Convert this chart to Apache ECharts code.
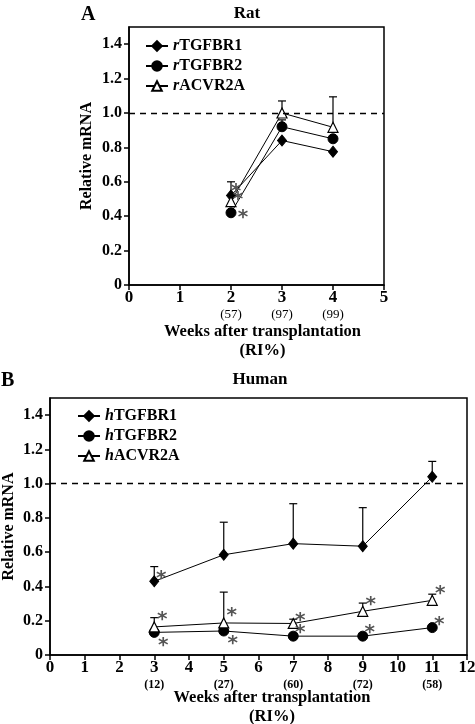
<!DOCTYPE html>
<html>
<head>
<meta charset="utf-8">
<script src="https://cdn.jsdelivr.net/npm/echarts@6/dist/echarts.min.js"></script>
<style>html,body{margin:0;padding:0;background:#fff}#c{width:475px;height:724px}</style>
</head>
<body>
<div id="c"></div>
<script>
// ---- Data: Rat (panel A)
const ratWeeks = [2, 3, 4];
const ratRI = ['57', '97', '99'];
const ratTGFBR1 = [0.52, 0.84, 0.775];
const ratTGFBR2 = [0.42, 0.92, 0.85];
const ratACVR2A = [0.485, 1.0, 0.917];
const ratTGFBR1_sd = [0.08, null, null];
const ratTGFBR2_sd = [null, 0.04, null];
const ratACVR2A_sd = [null, 0.07, 0.177];
// significance marks: [seriesKey, index, placement]
const ratSig = [['TGFBR2', 0, 'r'], ['TGFBR1', 0, 'r2'], ['ACVR2A', 0, 'ur2']];

// ---- Data: Human (panel B)
const humWeeks = [3, 5, 7, 9, 11];
const humRI = ['12', '27', '60', '72', '58'];
const humTGFBR1 = [0.43, 0.585, 0.65, 0.635, 1.04];
const humTGFBR2 = [0.132, 0.14, 0.11, 0.11, 0.16];
const humACVR2A = [0.164, 0.187, 0.184, 0.255, 0.319];
const humTGFBR1_sd = [0.086, 0.19, 0.233, 0.225, 0.09];
const humTGFBR2_sd = [null, null, null, null, null];
const humACVR2A_sd = [0.054, 0.18, 0.025, 0.048, 0.036];
const humSig = [['TGFBR1', 0, 'ur3'], ['ACVR2A', 0, 'ur'], ['TGFBR2', 0, 'lr'],
  ['ACVR2A', 1, 'ur'], ['TGFBR2', 1, 'lr'], ['ACVR2A', 2, 'ur3'], ['TGFBR2', 2, 'ur3'],
  ['ACVR2A', 3, 'ur'], ['TGFBR2', 3, 'ur3'], ['ACVR2A', 4, 'ur'], ['TGFBR2', 4, 'ur3']];

const yTicks = [0, 0.2, 0.4, 0.6, 0.8, 1.0, 1.2, 1.4];

const FONT = 'Liberation Serif';
const chart = echarts.init(document.getElementById('c'), null, {renderer: 'canvas'});

function pairs(xs, ys) { return xs.map((x, i) => [x, ys[i]]); }
function errData(xs, ys, sd) {
  const out = [];
  xs.forEach((x, i) => { if (sd[i] != null) out.push([x, ys[i], ys[i] + sd[i]]); });
  return out;
}
const GLYPH_DY = 5;
const placeOff = {ur: [8, -12], ur3: [7, -8], lr: [9, 8], r: [12, 0], r2: [7, -1], ur2: [5, -15]};

function sigData(sig, weeks, src) {
  return sig.map(s => [weeks[s[1]], src[s[0]][s[1]], s[2]]);
}

function errSeries(gi, data) {
  return {
    type: 'custom', xAxisIndex: gi, yAxisIndex: gi, z: 2, silent: true,
    data: data,
    renderItem: function (params, api) {
      const p0 = api.coord([api.value(0), api.value(1)]);
      const p1 = api.coord([api.value(0), api.value(2)]);
      const w = 4;
      return {
        type: 'group', children: [
          {type: 'line', shape: {x1: p0[0], y1: p0[1], x2: p1[0], y2: p1[1]}, style: {stroke: '#000', lineWidth: 1.2}},
          {type: 'line', shape: {x1: p1[0] - w, y1: p1[1], x2: p1[0] + w, y2: p1[1]}, style: {stroke: '#000', lineWidth: 1.2}}
        ]
      };
    }
  };
}
function sigSeries(gi, data) {
  return {
    type: 'custom', xAxisIndex: gi, yAxisIndex: gi, z: 5, silent: true,
    data: data,
    renderItem: function (params, api) {
      const p = api.coord([api.value(0), api.value(1)]);
      const off = placeOff[data[params.dataIndex][2]];
      return {
        type: 'text', x: p[0] + off[0], y: p[1] + off[1] + GLYPH_DY,
        style: {text: '*', fill: '#555', font: 'bold 20px "DejaVu Sans"', align: 'center', verticalAlign: 'middle'}
      };
    }
  };
}
function lineSeries(name, gi, data, kind) {
  const s = {
    name: name, type: 'line', xAxisIndex: gi, yAxisIndex: gi, data: data, z: 3,
    lineStyle: {color: '#000', width: 1},
    color: '#000',
    symbolSize: 9,
    itemStyle: {color: '#000', borderColor: '#000', borderWidth: 1},
    emphasis: {disabled: true},
    animation: false
  };
  if (kind === 'diamond') { s.symbol = 'diamond'; s.symbolSize = [9, 11]; }
  if (kind === 'circle') { s.symbol = 'circle'; s.symbolSize = 10; }
  if (kind === 'triangle') { s.symbol = 'triangle'; s.symbolSize = [10, 10]; s.itemStyle = {color: '#fff', borderColor: '#000', borderWidth: 1.2}; }
  return s;
}
const dash = {silent: true, symbol: 'none', label: {show: false}, animation: false,
  lineStyle: {type: [6, 5], color: '#000', width: 1.4}, data: [{yAxis: 1}]};

function xAxisCfg(gi, max, weeks, ri, gap, riStyle, namePad) {
  return {
    type: 'value', gridIndex: gi, min: 0, max: max, interval: 1,
    axisLine: {show: true, lineStyle: {color: '#000', width: 1.5}},
    axisTick: {show: true, length: 5, lineStyle: {color: '#000', width: 1.5}},
    splitLine: {show: false},
    axisLabel: {
      margin: 4, color: '#000',
      formatter: function (v) {
        const i = weeks.indexOf(v);
        return i >= 0 ? '{n|' + v + '}\n{r|(' + ri[i] + ')}' : '{n|' + v + '}';
      },
      rich: {
        n: {fontFamily: FONT, fontWeight: 'bold', fontSize: 17, color: '#000', lineHeight: 18},
        r: riStyle
      }
    },
    name: 'Weeks after transplantation\n(RI%)', nameLocation: 'middle', nameGap: gap,
    nameMoveOverlap: false,
    nameTextStyle: {fontFamily: FONT, fontWeight: 'bold', fontSize: 16.5, color: '#000', lineHeight: 19, padding: namePad}
  };
}
function yAxisCfg(gi, gap) {
  return {
    type: 'value', gridIndex: gi, min: 0, max: 1.5, interval: 0.2,
    axisLine: {show: true, lineStyle: {color: '#000', width: 1.5}},
    axisTick: {show: true, length: 5, lineStyle: {color: '#000', width: 1.5}},
    splitLine: {show: false},
    axisLabel: {
      margin: 7, color: '#000', fontFamily: FONT, fontWeight: 'bold', fontSize: 16,
      showMaxLabel: false,
      formatter: function (v) {
        const t = yTicks.find(k => Math.abs(k - v) < 1e-6);
        if (t === undefined) return '';
        return t === 0 ? '0' : t.toFixed(1);
      }
    },
    name: 'Relative mRNA', nameLocation: 'middle', nameGap: gap,
    nameMoveOverlap: false,
    nameTextStyle: {fontFamily: FONT, fontWeight: 'bold', fontSize: 16, color: '#000'}
  };
}
function legendCfg(names, left, top) {
  return {
    data: names, orient: 'vertical', left: left, top: top, itemGap: 4,
    itemWidth: 22, itemHeight: 12, selectedMode: false,
    formatter: n => '{i|' + n[0] + '}{b|' + n.slice(1) + '}',
    textStyle: {
      color: '#000', fontSize: 16, padding: [0, 0, 0, 0],
      rich: {
        i: {fontFamily: FONT, fontStyle: 'italic', fontWeight: 'bold', fontSize: 16, color: '#000'},
        b: {fontFamily: FONT, fontWeight: 'bold', fontSize: 16, color: '#000'}
      }
    }
  };
}

const ratSrc = {TGFBR1: ratTGFBR1, TGFBR2: ratTGFBR2, ACVR2A: ratACVR2A};
const humSrc = {TGFBR1: humTGFBR1, TGFBR2: humTGFBR2, ACVR2A: humACVR2A};

const r1 = lineSeries('rTGFBR1', 0, pairs(ratWeeks, ratTGFBR1), 'diamond');
r1.markLine = dash;
const h1 = lineSeries('hTGFBR1', 1, pairs(humWeeks, humTGFBR1), 'diamond');
h1.markLine = dash;

chart.setOption({
  animation: false,
  backgroundColor: '#fff',
  title: [
    {text: 'A', left: 76, top: 0, textStyle: {fontFamily: FONT, fontWeight: 'bold', fontSize: 20, color: '#000'}},
    {text: 'Rat', left: 242, top: 0, textAlign: 'center', textStyle: {fontFamily: FONT, fontWeight: 'bold', fontSize: 17, color: '#000'}},
    {text: 'B', left: -4, top: 366, textStyle: {fontFamily: FONT, fontWeight: 'bold', fontSize: 20, color: '#000'}},
    {text: 'Human', left: 255, top: 366, textAlign: 'center', textStyle: {fontFamily: FONT, fontWeight: 'bold', fontSize: 17, color: '#000'}}
  ],
  grid: [
    {left: 129, top: 27, width: 255, height: 258, show: true, borderColor: '#000', borderWidth: 1.5, backgroundColor: 'transparent', containLabel: false, outerBoundsMode: 'none'},
    {left: 50, top: 398, width: 417, height: 257, show: true, borderColor: '#000', borderWidth: 1.5, backgroundColor: 'transparent', containLabel: false, outerBoundsMode: 'none'}
  ],
  xAxis: [
    xAxisCfg(0, 5, ratWeeks, ratRI, 37, {fontFamily: FONT, fontSize: 13, color: '#000', lineHeight: 16, padding: [0, 0, 0, 0]}, [0, 0, 0, 12]),
    xAxisCfg(1, 12, humWeeks, humRI, 33, {fontFamily: FONT, fontWeight: 'bold', fontSize: 12, color: '#000', lineHeight: 15, padding: [1, 0, 0, 0]}, [0, 0, 0, 27])
  ],
  yAxis: [yAxisCfg(0, 34), yAxisCfg(1, 33)],
  legend: [
    legendCfg(['rTGFBR1', 'rTGFBR2', 'rACVR2A'], 140, 33),
    legendCfg(['hTGFBR1', 'hTGFBR2', 'hACVR2A'], 72, 403)
  ],
  series: [
    errSeries(0, errData(ratWeeks, ratTGFBR1, ratTGFBR1_sd)),
    errSeries(0, errData(ratWeeks, ratTGFBR2, ratTGFBR2_sd)),
    errSeries(0, errData(ratWeeks, ratACVR2A, ratACVR2A_sd)),
    r1,
    lineSeries('rTGFBR2', 0, pairs(ratWeeks, ratTGFBR2), 'circle'),
    lineSeries('rACVR2A', 0, pairs(ratWeeks, ratACVR2A), 'triangle'),
    sigSeries(0, sigData(ratSig, ratWeeks, ratSrc)),
    errSeries(1, errData(humWeeks, humTGFBR1, humTGFBR1_sd)),
    errSeries(1, errData(humWeeks, humTGFBR2, humTGFBR2_sd)),
    errSeries(1, errData(humWeeks, humACVR2A, humACVR2A_sd)),
    h1,
    lineSeries('hTGFBR2', 1, pairs(humWeeks, humTGFBR2), 'circle'),
    lineSeries('hACVR2A', 1, pairs(humWeeks, humACVR2A), 'triangle'),
    sigSeries(1, sigData(humSig, humWeeks, humSrc))
  ]
});
</script>
</body>
</html>
